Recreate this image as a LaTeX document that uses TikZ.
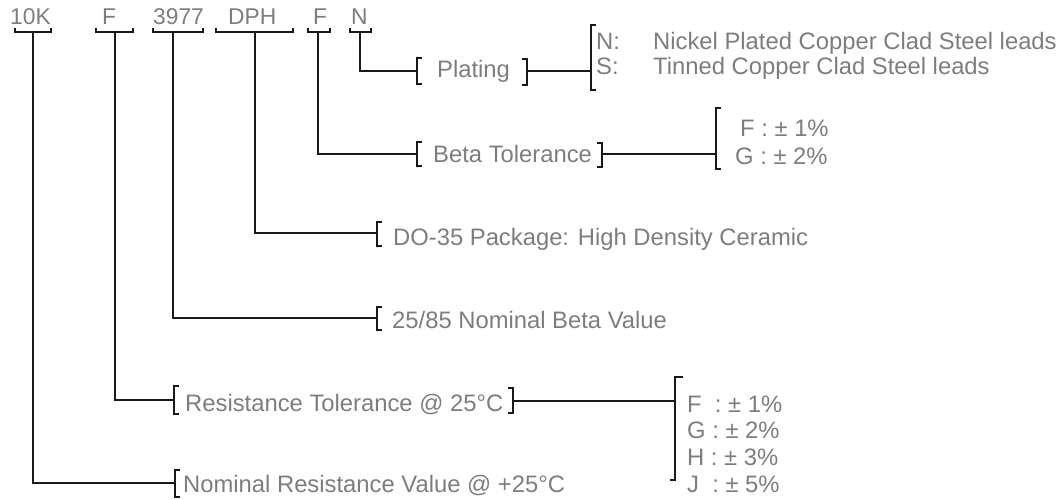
\documentclass[tikz,border=0pt]{standalone}
\usepackage{fontspec}
\setmainfont{Liberation Sans}
\definecolor{txtgray}{RGB}{125,125,125}
\definecolor{linecol}{RGB}{25,25,25}
\newcommand\mylb[3]{\draw[brk] ({#1+5},#2) -- (#1,#2) -- (#1,#3) -- ({#1+5},#3);}
\newcommand\myrb[3]{\draw[brk] ({#1-5},#2) -- (#1,#2) -- (#1,#3) -- ({#1-5},#3);}
\newcommand\myub[3]{\draw[brk] (#1,{#3-4}) -- (#1,#3) -- (#2,#3) -- (#2,{#3-4});}
\begin{document}
\begin{tikzpicture}[x=1pt,y=-1pt,
  brk/.style={draw=linecol,line width=1.5pt,line join=miter},
  conn/.style={draw=linecol,line width=1.5pt},
  lbl/.style={anchor=base west,inner sep=0pt,text=txtgray,font=\fontsize{23.8}{28}\selectfont},
  code/.style={anchor=base west,inner sep=0pt,text=txtgray,font=\fontsize{22.8}{27}\selectfont}]
\useasboundingbox (0,0) rectangle (1062,500);
% codes
\node[code] (c10k) at (10,25) {10K};
\node[code] (cf1) at (102,25) {F};
\node[code] (c3977) at (153,25) {3977};
\node[code] (cdph) at (228,25) {DPH};
\node[code] (cf2) at (313,25) {F};
\node[code] (cn) at (351,25) {N};
\myub{15}{51}{32}
\myub{96}{133}{32}
\myub{153}{203}{32}
\myub{216}{293}{32}
\myub{308}{330}{32}
\myub{350}{371}{32}
% stem start coordinates
\coordinate (s10k) at (33,32);
\coordinate (sf1) at (115,32);
\coordinate (s3977) at (173,32);
\coordinate (sdph) at (255,32);
\coordinate (sf2) at (318,32);
\coordinate (sn) at (360,32);
% label bracket coordinates
\coordinate (eplat) at (417,71);
\coordinate (ebeta) at (417,154);
\coordinate (edo) at (377,233);
\coordinate (e2585) at (377,318);
\coordinate (eres) at (174,400);
\coordinate (enom) at (175,483);
% plating
\mylb{417}{58}{84}
\node[lbl] (tplat) at (437,78) {Plating};
\myrb{527}{59}{85}
\coordinate (rplat) at (527,71);
\coordinate (bplat) at (591,71);
\mylb{591}{25}{90}
\node[lbl] (pn) at (596,50) {N:};
\node[lbl] (pnt) at (653,50) {Nickel Plated Copper Clad Steel leads};
\node[lbl] (ps) at (596,75) {S:};
\node[lbl] (pst) at (653,75) {Tinned Copper Clad Steel leads};
% beta tolerance
\mylb{417}{142}{166}
\node[lbl] (tbeta) at (433,162) {Beta Tolerance};
\myrb{602}{143}{167}
\coordinate (rbeta) at (602,154);
\coordinate (bbeta) at (716,154);
\mylb{716}{108}{169}
\node[lbl] (bf) at (740,136) {F : ± 1\%};
\node[lbl] (bg) at (735,164) {G : ± 2\%};
% DO-35
\mylb{377}{222}{246}
\node[lbl] (tdo) at (393,245) {DO-35 Package: High Density Ceramic};
% 25/85
\mylb{377}{307}{330}
\node[lbl] (t2585) at (392,328) {25/85 Nominal Beta Value};
% resistance tolerance
\mylb{174}{386}{414}
\node[lbl] (tres) at (185,411) {Resistance Tolerance @ 25°C};
\myrb{513}{388}{413}
\coordinate (rres) at (513,401);
\coordinate (bres) at (675,401);
\draw[brk] (683,377) -- (675,377) -- (675,480) -- (670,480);
\node[lbl] (rf) at (687,412) {F\ \ : ± 1\%};
\node[lbl] (rg) at (687,438) {G : ± 2\%};
\node[lbl] (rh) at (687,465) {H : ± 3\%};
\node[lbl] (rj) at (687,492) {J\ \ : ± 5\%};
% nominal
\mylb{175}{470}{497}
\node[lbl] (tnom) at (183,492) {Nominal Resistance Value @ +25°C};
% connectors
\draw[conn] (sn) |- (eplat);
\draw[conn] (sf2) |- (ebeta);
\draw[conn] (sdph) |- (edo);
\draw[conn] (s3977) |- (e2585);
\draw[conn] (sf1) |- (eres);
\draw[conn] (s10k) |- (enom);
\draw[conn] (rplat) -- (bplat);
\draw[conn] (rbeta) -- (bbeta);
\draw[conn] (rres) -- (bres);
\end{tikzpicture}
\end{document}
